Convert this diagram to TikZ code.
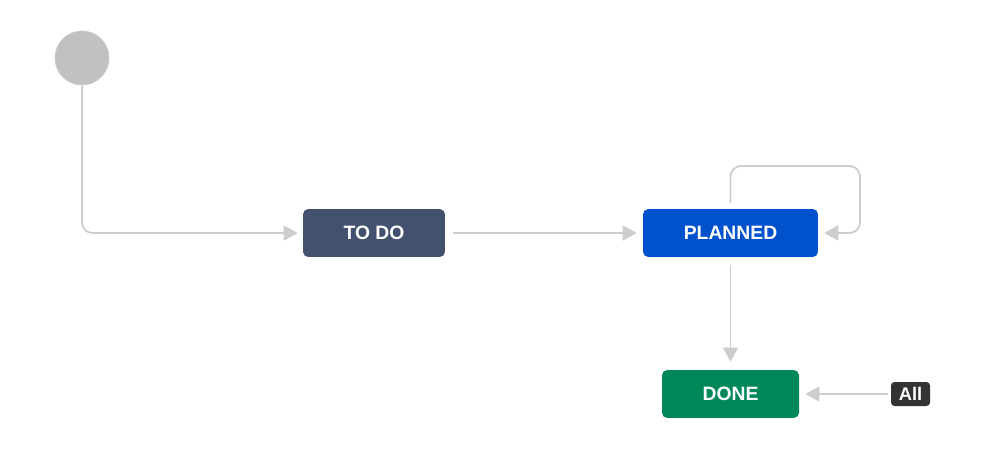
\documentclass[tikz,border=0pt]{standalone}
\usepackage{fontspec}
\setmainfont{Liberation Sans}
\usetikzlibrary{positioning, arrows.meta, calc}
\definecolor{flowGrey}{HTML}{C1C1C1}
\definecolor{flowLine}{HTML}{CDCDCD}
\definecolor{flowSlate}{HTML}{42526E}
\definecolor{flowBlue}{HTML}{0052CC}
\definecolor{flowGreen}{HTML}{00875A}
\definecolor{flowDark}{HTML}{333333}

\begin{document}
\begin{tikzpicture}[x=0.02cm, y=-0.02cm,
    wfStart/.style={circle, fill=flowGrey, draw=flowGrey!85, line width=0.4pt, minimum size=1.08cm, inner sep=0pt},
    wfStatus/.style={rectangle, rounded corners=3pt, text=white, align=center, font=\fontsize{11}{13}\selectfont\bfseries, minimum height=0.96cm, inner sep=0pt},
    wfTag/.style={rectangle, rounded corners=2pt, fill=flowDark, text=white, font=\fontsize{10.4}{12}\selectfont\bfseries, minimum width=0.78cm, minimum height=0.48cm, inner sep=0pt},
    wfLink/.style={draw=flowLine, line width=1.05pt, rounded corners=6pt, -{Triangle[length=0.28cm, width=0.3cm]}},
]
\useasboundingbox[fill=white] (0,0) rectangle (999,462);
\node[wfStart] (start) at (82,58) {};
\node[wfStatus, fill=flowSlate, minimum width=2.84cm] (todo) at (374,233) {TO DO};
\node[wfStatus, fill=flowBlue, minimum width=3.5cm] (planned) at (730.5,233) {PLANNED};
\node[wfStatus, fill=flowGreen, minimum width=2.74cm] (done) at (730.5,394) {DONE};
\node[wfTag] (all) at (910.5,394) {All};
\coordinate (loopTop) at (860,166);
% transitions
\draw[wfLink, shorten >=0.1cm] (start) |- (todo);
\draw[wfLink, shorten <=0.16cm, shorten >=0.12cm] (todo) -- (planned);
\draw[wfLink, shorten <=0.16cm, shorten >=0.16cm] (planned) -- (done);
\draw[wfLink, shorten <=0.12cm, shorten >=0.12cm] (planned.north) |- (loopTop) |- (planned.east);
\draw[wfLink, shorten <=0.06cm, shorten >=0.12cm] (all) -- (done);
\end{tikzpicture}
\end{document}
